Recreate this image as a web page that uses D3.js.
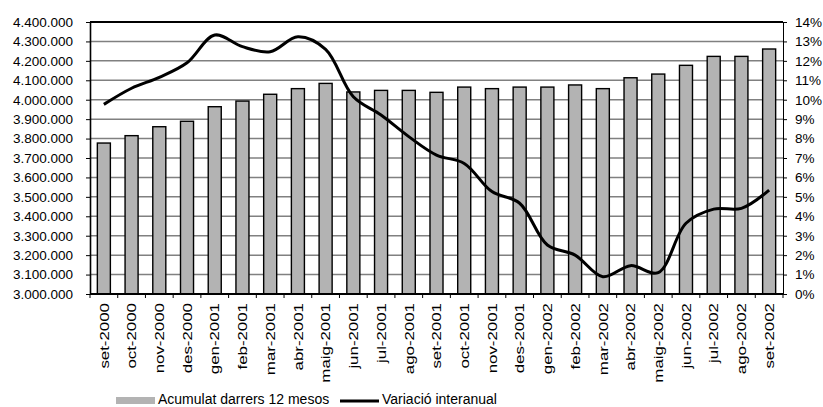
<!DOCTYPE html>
<html>
<head>
<meta charset="utf-8">
<script src="https://cdn.jsdelivr.net/npm/d3@7"></script>
<style>
  html, body { margin: 0; padding: 0; background: #fff; }
  svg { display: block; font-family: "Liberation Sans", Arial, sans-serif; }
</style>
</head>
<body>
<div id="chart"></div>
<script>
// categories (x axis)
const months = ['set-2000', 'oct-2000', 'nov-2000', 'des-2000', 'gen-2001', 'feb-2001', 'mar-2001',
    'abr-2001', 'maig-2001', 'jun-2001', 'jul-2001', 'ago-2001', 'set-2001', 'oct-2001', 'nov-2001',
    'des-2001', 'gen-2002', 'feb-2002', 'mar-2002', 'abr-2002', 'maig-2002', 'jun-2002', 'jul-2002',
    'ago-2002', 'set-2002']
// barres: acumulat darrers 12 mesos
const acumulat = [3777000, 3815000, 3861000, 3889000, 3964000, 3993000, 4028000, 4057000, 4084000,
    4040000, 4048000, 4048000, 4038000, 4065000, 4057000, 4065000, 4065000, 4076000, 4057000,
    4113000, 4132000, 4177000, 4223000, 4223000, 4261000]
// línia: variació interanual (%)
const variacio = [9.76, 10.59, 11.15, 11.9, 13.33, 12.73, 12.47, 13.24, 12.59, 10.15, 9.21, 8.1,
    7.15, 6.72, 5.27, 4.67, 2.52, 2.0, 0.89, 1.46, 1.1, 3.64, 4.37, 4.41, 5.35]
// ticks
const leftTicks = d3.range(3000000, 4400001, 100000)
const rightTicks = d3.range(0, 15, 1)
const legendLabels = ['Acumulat darrers 12 mesos', 'Variació interanual']

const width = 823
const height = 407
const m = {left: 90, right: 40, top: 22, bottom: 113}

const svg = d3.select('#chart').append('svg')
    .attr('width', width)
    .attr('height', height)

const x = d3.scaleBand()
    .domain(months)
    .range([m.left, width - m.right])

const yL = d3.scaleLinear()
    .domain([3000000, 4400000])
    .range([height - m.bottom, m.top])

const yR = d3.scaleLinear()
    .domain([0, 14])
    .range([height - m.bottom, m.top])

const fmt = d3.formatLocale({decimal: ',', thousands: '.', grouping: [3], currency: ['', '']}).format(',d')

// graella
svg.append('g')
    .selectAll('line')
    .data(leftTicks)
    .join('line')
    .attr('x1', m.left)
    .attr('x2', width - m.right)
    .attr('y1', d => yL(d))
    .attr('y2', d => yL(d))
    .attr('stroke', (d, i) => i === leftTicks.length - 1 ? '#000' : '#808080')
    .attr('stroke-width', (d, i) => i === leftTicks.length - 1 ? 2 : 1.5)

// barres
const barW = x.bandwidth() * 0.47
svg.append('g')
    .selectAll('rect')
    .data(acumulat)
    .join('rect')
    .attr('x', (d, i) => x(months[i]) + (x.bandwidth() - barW) / 2)
    .attr('y', d => yL(d))
    .attr('width', barW)
    .attr('height', d => yL(3000000) - yL(d))
    .attr('fill', '#b3b3b3')
    .attr('stroke', '#000')
    .attr('stroke-width', 1.4)

// eix esquerre
const axL = svg.append('g')
    .attr('transform', `translate(${m.left},0)`)
    .call(d3.axisLeft(yL).tickValues(leftTicks).tickFormat(fmt).tickSizeInner(4).tickSizeOuter(0).tickPadding(13))
axL.select('.domain').attr('stroke-width', 1.6)
axL.selectAll('.tick text').attr('font-size', 13.5).attr('fill', '#000')

// eix dret
const axR = svg.append('g')
    .attr('transform', `translate(${width - m.right},0)`)
    .call(d3.axisRight(yR).tickValues(rightTicks).tickFormat(d => d + '%').tickSizeInner(4).tickSizeOuter(0).tickPadding(8))
axR.selectAll('.tick text').attr('font-size', 13.5).attr('fill', '#000')

// eix inferior
const base = height - m.bottom
svg.append('line')
    .attr('x1', m.left).attr('x2', width - m.right)
    .attr('y1', base).attr('y2', base)
    .attr('stroke', '#000').attr('stroke-width', 2)

svg.append('g')
    .selectAll('line')
    .data(months.concat(['__end']))
    .join('line')
    .attr('x1', (d, i) => i < months.length ? x(d) : x.range()[1])
    .attr('x2', (d, i) => i < months.length ? x(d) : x.range()[1])
    .attr('y1', base)
    .attr('y2', base + 4)
    .attr('stroke', '#000')

// etiquetes verticals, una mica estirades com a l'original
svg.append('g')
    .selectAll('text')
    .data(months)
    .join('text')
    .attr('transform', d => `translate(${x(d) + x.bandwidth() / 2},${base + 9}) rotate(-90) scale(1.25,1)`)
    .attr('text-anchor', 'end')
    .attr('dy', '0.35em')
    .attr('font-size', 13.5)
    .text(d => d)

// línia
const line = d3.line()
    .x((d, i) => x(months[i]) + x.bandwidth() / 2)
    .y(d => yR(d))
    .curve(d3.curveCatmullRom.alpha(0.5))

svg.append('path')
    .datum(variacio)
    .attr('d', line)
    .attr('fill', 'none')
    .attr('stroke', '#000')
    .attr('stroke-width', 3)

// llegenda
svg.append('rect')
    .attr('x', 116).attr('y', 397)
    .attr('width', 39).attr('height', 7)
    .attr('fill', '#b3b3b3')
svg.append('text')
    .attr('x', 158).attr('y', 404)
    .attr('font-size', 14)
    .text(legendLabels[0])
svg.append('line')
    .attr('x1', 340).attr('x2', 379)
    .attr('y1', 401).attr('y2', 401)
    .attr('stroke', '#000').attr('stroke-width', 3)
svg.append('text')
    .attr('x', 382).attr('y', 404)
    .attr('font-size', 14)
    .text(legendLabels[1])
</script>
</body>
</html>
